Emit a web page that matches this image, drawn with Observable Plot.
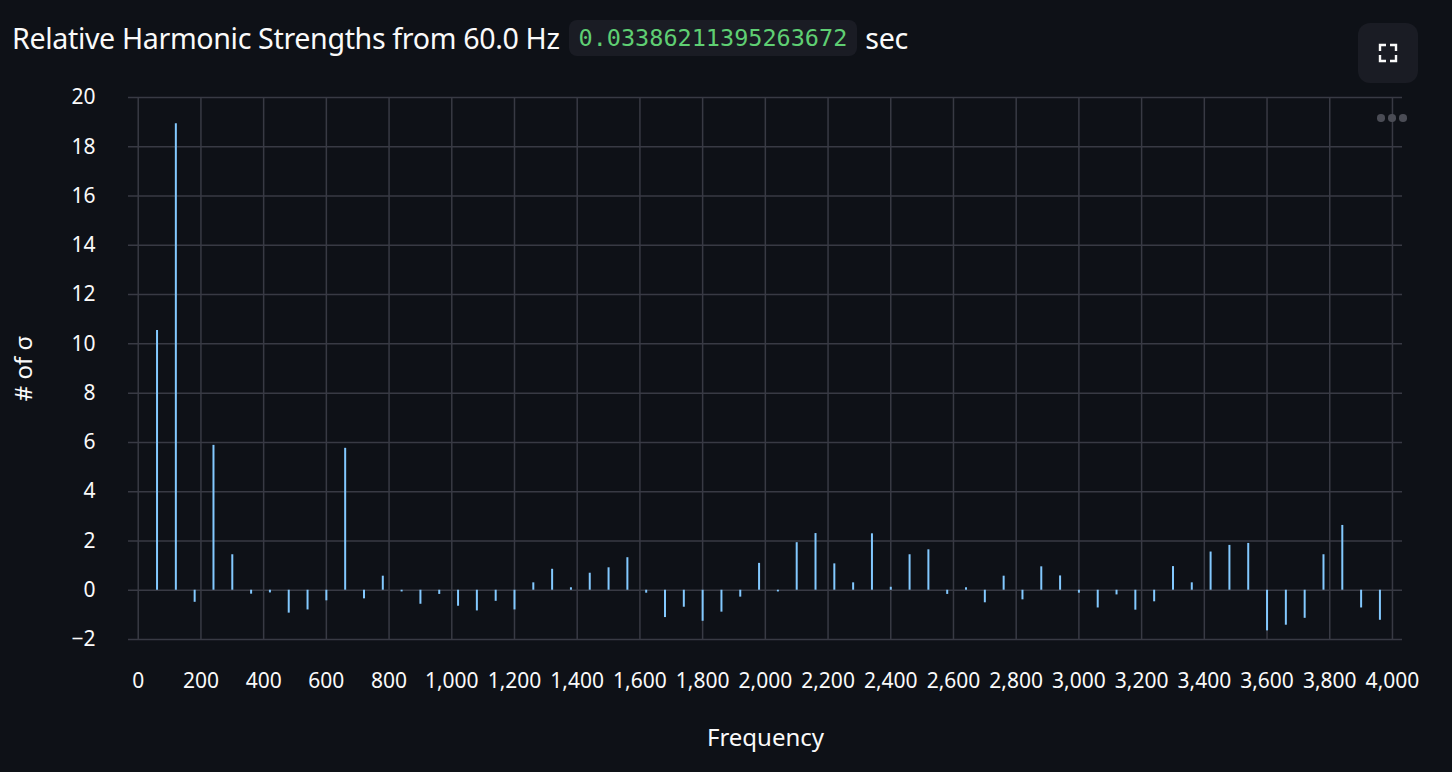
<!DOCTYPE html>
<html>
<head>
<meta charset="utf-8">
<script src="https://cdn.jsdelivr.net/npm/d3@7"></script>
<script src="https://cdn.jsdelivr.net/npm/@observablehq/plot@0.6"></script>
<style>
  html, body { margin: 0; padding: 0; background: #0e1117; }
  #wrap { position: relative; width: 1452px; height: 772px; overflow: hidden; background: #0e1117; }
  #title { position: absolute; left: 12px; top: 18px; display: flex; align-items: center; white-space: nowrap;
           font-family: "Noto Sans", sans-serif; font-size: 28.6px; color: #fafafa; letter-spacing: -0.35px; z-index: 2; }
  #title code { font-family: "DejaVu Sans Mono", monospace; font-size: 23.5px; color: #5fcf73; background: #1a1c24;
                border-radius: 8px; padding: 4px 10px; margin: 0 8px 0 9px; letter-spacing: 0; }
  #chart { position: absolute; left: 0; top: 0; z-index: 1; }
  #fs { position: absolute; left: 1358px; top: 23px; width: 60px; height: 60px; border-radius: 12px; background: #1a1c24; z-index: 2; }
  #dots { position: absolute; left: 1377px; top: 114px; z-index: 2; display: flex; gap: 3.5px; }
  #dots span { width: 7.5px; height: 7.5px; border-radius: 50%; background: #4a4c55; display: block; }
</style>
</head>
<body>
<div id="wrap">
  <div id="title">Relative Harmonic Strengths from 60.0 Hz<code>0.03386211395263672</code>sec</div>
  <div id="fs">
    <svg width="60" height="60" viewBox="0 0 60 60">
      <g fill="none" stroke="#fafafa" stroke-width="2.4">
        <path d="M22 28 V22 H28"/><path d="M32 22 H38 V28"/><path d="M38 32 V38 H32"/><path d="M28 38 H22 V32"/>
      </g>
    </svg>
  </div>
  <div id="dots"><span></span><span></span><span></span></div>
  <div id="chart"></div>
</div>
<script>
const frequencies = [60,120,180,240,300,360,420,480,540,600,660,720,780,840,900,960,1020,1080,1140,1200,
  1260,1320,1380,1440,1500,1560,1620,1680,1740,1800,1860,1920,1980,2040,2100,2160,2220,2280,2340,2400,
  2460,2520,2580,2640,2700,2760,2820,2880,2940,3000,3060,3120,3180,3240,3300,3360,3420,3480,3540,3600,
  3660,3720,3780,3840,3900,3960];
const sigmas = [10.54,18.93,-0.49,5.88,1.44,-0.16,-0.11,-0.93,-0.80,-0.43,5.76,-0.35,0.57,-0.07,-0.57,-0.17,-0.65,-0.84,-0.45,-0.80,
  0.30,0.85,0.10,0.69,0.91,1.32,-0.12,-1.11,-0.69,-1.26,-0.89,-0.28,1.09,-0.07,1.93,2.30,1.07,0.30,2.29,0.12,
  1.44,1.64,-0.17,0.10,-0.51,0.57,-0.39,0.95,0.58,-0.12,-0.72,-0.19,-0.81,-0.47,0.96,0.30,1.55,1.82,1.90,-1.65,
  -1.42,-1.14,1.44,2.63,-0.72,-1.22];
const xTicks = [0,200,400,600,800,1000,1200,1400,1600,1800,2000,2200,2400,2600,2800,3000,3200,3400,3600,3800,4000];
const yTicks = [-2,0,2,4,6,8,10,12,14,16,18,20];

const data = frequencies.map((f, i) => ({f, v: sigmas[i]}));
const grid = "#383a44";

const chart = Plot.plot({
  width: 1452,
  height: 772,
  marginTop: 97,
  marginBottom: 133,
  marginLeft: 128,
  marginRight: 50,
  style: {background: "transparent", color: "#fafafa", fontFamily: "'Noto Sans', sans-serif", fontSize: "21px"},
  x: {domain: [-31, 4032]},
  y: {domain: [-2, 20]},
  marks: [
    Plot.gridX({ticks: xTicks, stroke: grid, strokeOpacity: 1, strokeWidth: 1.5}),
    Plot.gridY({ticks: yTicks, stroke: grid, strokeOpacity: 1, strokeWidth: 1.5}),
    Plot.ruleX(data, {x: "f", y1: 0, y2: "v", stroke: "#83c9ff", strokeWidth: 2}),
    Plot.axisX({ticks: xTicks, tickSize: 0, tickPadding: 34, tickFormat: d3.format(","), label: null, fontSize: 21}),
    Plot.axisY({ticks: yTicks, tickSize: 0, tickPadding: 33, tickFormat: d3.format("d"), label: null, fontSize: 21}),
    Plot.axisX({ticks: [], tickSize: 0, label: "Frequency", labelAnchor: "center", labelArrow: "none", labelOffset: 106, fontSize: 24}),
    Plot.axisY({ticks: [], tickSize: 0, label: "# of σ", labelAnchor: "center", labelArrow: "none", labelOffset: 114, fontSize: 24})
  ]
});
document.getElementById("chart").appendChild(chart);
</script>
</body>
</html>
